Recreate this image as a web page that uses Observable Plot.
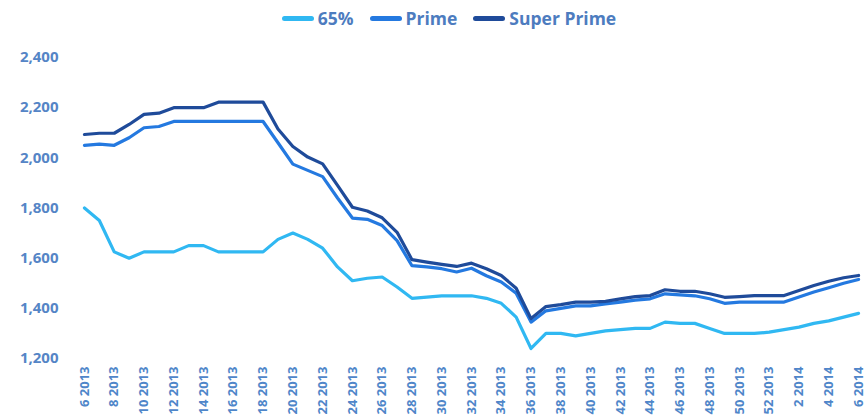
<!DOCTYPE html>
<html>
<head>
<meta charset="utf-8">
<script src="https://cdn.jsdelivr.net/npm/d3@7"></script>
<script src="https://cdn.jsdelivr.net/npm/@observablehq/plot@0.6"></script>
<style>
  html, body { margin: 0; padding: 0; background: #fff; }
  body { width: 868px; height: 419px; overflow: hidden; position: relative; font-family: "Open Sans", sans-serif; }
  #legend { position: absolute; left: 0; top: 4px; width: 868px; height: 28px; display: flex; justify-content: center; align-items: center; padding-left: 30px; box-sizing: border-box; gap: 16px; font-weight: 700; font-size: 17.5px; color: #4d7cbf; }
  .item { display: flex; align-items: center; gap: 4px; }
  .sw { display: inline-block; width: 32px; height: 5px; border-radius: 3px; }
  #chart { position: absolute; left: 0; top: 35px; }
</style>
</head>
<body>
<div id="legend"></div>
<div id="chart"></div>
<script>
const weeks = ["6 2013","7 2013","8 2013","9 2013","10 2013","11 2013","12 2013","13 2013","14 2013","15 2013","16 2013","17 2013","18 2013","19 2013","20 2013","21 2013","22 2013","23 2013","24 2013","25 2013","26 2013","27 2013","28 2013","29 2013","30 2013","31 2013","32 2013","33 2013","34 2013","35 2013","36 2013","37 2013","38 2013","39 2013","40 2013","41 2013","42 2013","43 2013","44 2013","45 2013","46 2013","47 2013","48 2013","49 2013","50 2013","51 2013","52 2013","1 2014","2 2014","3 2014","4 2014","5 2014","6 2014"];
const tickLabels = ["6 2013","8 2013","10 2013","12 2013","14 2013","16 2013","18 2013","20 2013","22 2013","24 2013","26 2013","28 2013","30 2013","32 2013","34 2013","36 2013","38 2013","40 2013","42 2013","44 2013","46 2013","48 2013","50 2013","52 2013","2 2014","4 2014","6 2014"];
const pct65 = [1800,1750,1625,1600,1625,1625,1625,1650,1650,1625,1625,1625,1625,1675,1700,1675,1640,1565,1510,1520,1525,1485,1440,1445,1450,1450,1450,1440,1420,1365,1240,1300,1300,1290,1300,1310,1315,1320,1320,1345,1340,1340,1320,1300,1300,1300,1305,1315,1325,1340,1350,1365,1380];
const prime = [2050,2055,2050,2080,2120,2125,2145,2145,2145,2145,2145,2145,2145,2060,1975,1950,1925,1840,1760,1755,1730,1670,1570,1565,1558,1545,1560,1530,1505,1460,1345,1390,1400,1410,1410,1418,1425,1433,1438,1458,1454,1450,1438,1420,1425,1425,1425,1425,1445,1465,1482,1500,1515];
const superPrime = [2093,2098,2098,2133,2173,2178,2200,2200,2200,2222,2222,2222,2222,2115,2045,2003,1976,1890,1803,1788,1761,1703,1594,1584,1575,1567,1580,1558,1531,1480,1359,1407,1415,1425,1425,1428,1438,1447,1451,1474,1468,1468,1458,1444,1447,1451,1451,1451,1471,1491,1508,1522,1531];
const seriesNames = ["65%","Prime","Super Prime"];
const seriesColors = ["#30b8f2","#2479e0","#1f4b9a"];
const yTicks = [1200,1400,1600,1800,2000,2200,2400];

const seriesValues = [pct65, prime, superPrime];
const rows = [];
seriesValues.forEach((vals, s) => vals.forEach((v, i) => rows.push({week: weeks[i], value: v, series: seriesNames[s]})));

const legend = document.getElementById("legend");
seriesNames.forEach((n, i) => {
  const it = document.createElement("span");
  it.className = "item";
  it.innerHTML = `<span class="sw" style="background:${seriesColors[i]}"></span><span>${n}</span>`;
  legend.appendChild(it);
});

const chart = Plot.plot({
  width: 868,
  height: 384,
  marginTop: 22,
  marginBottom: 61,
  marginLeft: 78,
  marginRight: 4,
  style: {fontFamily: "'Open Sans', sans-serif", background: "transparent"},
  x: {type: "point", domain: weeks, padding: 0.4},
  y: {domain: [1200, 2400]},
  color: {domain: seriesNames, range: seriesColors},
  marks: [
    Plot.ruleY([1200], {stroke: "#bdbdbd", strokeWidth: 1.5, x1: 78, x2: 868}),
    Plot.axisY({ticks: yTicks, tickFormat: d3.format(","), tickSize: 0, tickPadding: 20, fontSize: 15, fontWeight: 700, fill: "#5585c6", label: null}),
    Plot.axisX({ticks: tickLabels, tickSize: 0, tickPadding: 8, tickRotate: -90, fontSize: 13, fontWeight: 700, fill: "#4f86c9", label: null}),
    Plot.line(rows, {x: "week", y: "value", z: "series", stroke: "series", strokeWidth: 3.2, strokeLinejoin: "round", strokeLinecap: "round"})
  ]
});
document.getElementById("chart").appendChild(chart);
</script>
</body>
</html>
